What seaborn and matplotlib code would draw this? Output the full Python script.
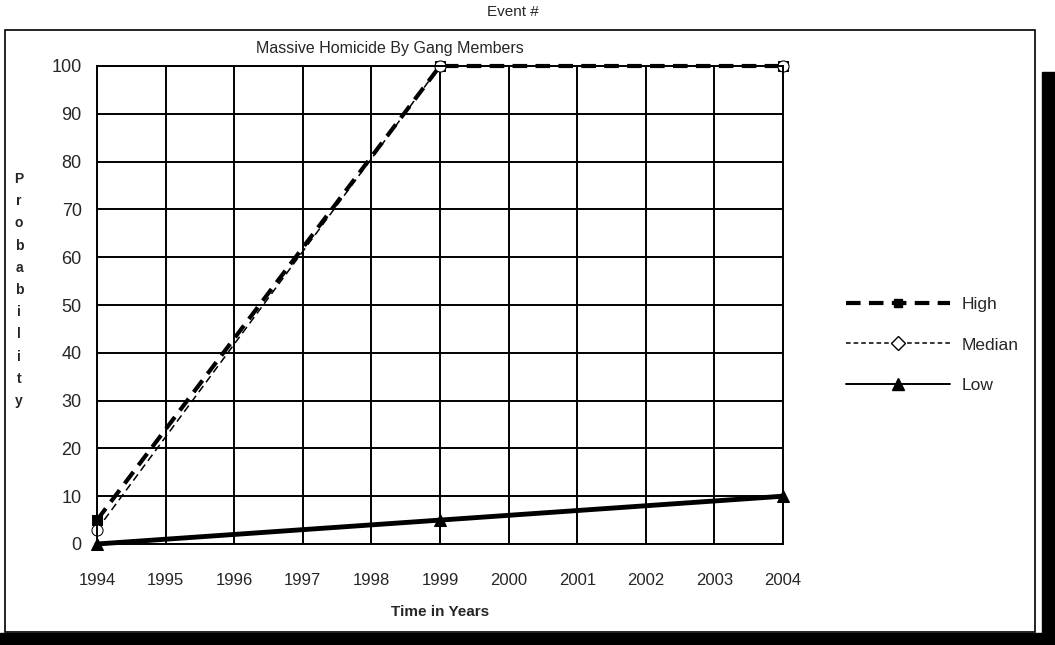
import matplotlib
matplotlib.use("Agg")
import matplotlib.pyplot as plt
from matplotlib.lines import Line2D
from matplotlib.patches import Rectangle
import seaborn as sns

years = [1994, 1999, 2004]
high = [5, 100, 100]
median = [3, 100, 100]
low = [0, 5, 10]
xticks = list(range(1994, 2005))
yticks = list(range(0, 101, 10))

sns.set_theme(style="white")
plt.rcParams['font.family'] = ['Liberation Sans', 'DejaVu Sans']

W, H = 1055, 645
fig = plt.figure(figsize=(W / 100, H / 100), dpi=100)
fig.patch.set_facecolor("white")

# outer chart frame and scan borders
fig.patches.append(Rectangle((5 / W, 1 - 632 / H), 1030 / W, 602 / H, transform=fig.transFigure,
                             fill=False, edgecolor="black", linewidth=1.2))
fig.patches.append(Rectangle((0, 0), 1, 12 / H, transform=fig.transFigure, color="black"))
fig.patches.append(Rectangle((1042 / W, 0), 13 / W, 1 - 72 / H, transform=fig.transFigure, color="black"))

ax = fig.add_axes([97 / W, 1 - 544 / H, (783 - 97) / W, (544 - 66) / H])
ax.set_facecolor("white")

sns.lineplot(x=years, y=high, ax=ax, color="black", linewidth=3.0, linestyle=(0, (3.5, 2.0)),
             marker="s", markersize=7, markerfacecolor="black", markeredgecolor="black", clip_on=False)
sns.lineplot(x=years, y=median, ax=ax, color="black", linewidth=1.1, linestyle=(0, (5, 3)),
             marker="o", markersize=8, markerfacecolor="white", markeredgecolor="black", clip_on=False)
sns.lineplot(x=years, y=low, ax=ax, color="black", linewidth=3.5, linestyle="-",
             marker="^", markersize=8, markerfacecolor="black", markeredgecolor="black", clip_on=False)

ax.set_xlim(1994, 2004)
ax.set_ylim(0, 100)
ax.set_xticks(xticks)
ax.set_yticks(yticks)
ax.set_xticklabels([str(v) for v in xticks], fontsize=12)
ax.set_yticklabels([str(v) for v in yticks], fontsize=13)
ax.grid(True, color="black", linewidth=1.4)
ax.set_axisbelow(True)
for s in ax.spines.values():
    s.set_visible(True)
    s.set_color("black")
    s.set_linewidth(1.4)
ax.tick_params(axis="both", direction="out", length=7, width=1.4, color="black")
ax.tick_params(axis="y", pad=4)
ax.tick_params(axis="x", pad=14)
ax.set_xlabel("")
ax.set_ylabel("")

fig.text(440 / W, 1 - 612 / H, "Time in Years", ha="center", va="center", fontsize=11, fontweight="bold")
fig.text(390 / W, 1 - 49 / H, "Massive Homicide By Gang Members", ha="center", va="center", fontsize=11.5)
fig.text(513 / W, 1 - 12 / H, "Event #", ha="center", va="center", fontsize=11)
fig.text(19 / W, 1 - 290 / H, "\n".join("Probability"), ha="center", va="center",
         fontsize=10, fontweight="bold", linespacing=1.75)

handles = [
    Line2D([], [], color="black", linewidth=3.0, linestyle=(0, (3.5, 2.0)), marker="s", markersize=6,
           markerfacecolor="black"),
    Line2D([], [], color="black", linewidth=1.1, linestyle=(0, (3, 2)), marker="D", markersize=7,
           markerfacecolor="white", markeredgecolor="black"),
    Line2D([], [], color="black", linewidth=1.4, linestyle="-", marker="^", markersize=8,
           markerfacecolor="black"),
]
fig.legend(handles, ["High", "Median", "Low"], loc="center left",
           bbox_to_anchor=(830 / W, 1 - 345 / H), frameon=False, fontsize=12.5,
           handlelength=6.0, labelspacing=1.45, handletextpad=0.7)

fig.savefig("out.png", dpi=100, facecolor="white")
